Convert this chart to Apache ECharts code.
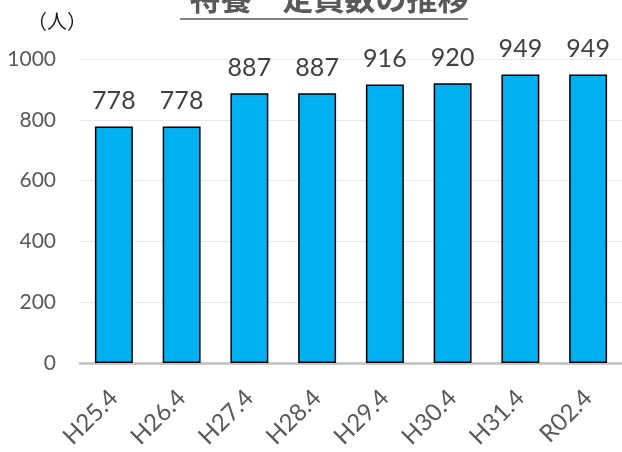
<!DOCTYPE html>
<html>
<head>
<meta charset="utf-8">
<script src="https://cdn.jsdelivr.net/npm/echarts@6/dist/echarts.min.js"></script>
<style>
  html, body { margin: 0; padding: 0; background: #fff; }
  #main { width: 622px; height: 452px; }
</style>
</head>
<body>
<div id="main"></div>
<script>
// 特養 定員数 (人)
const categories = ['H25.4', 'H26.4', 'H27.4', 'H28.4', 'H29.4', 'H30.4', 'H31.4', 'R02.4'];
const capacity = [778, 778, 887, 887, 916, 920, 949, 949];
const yTicks = [0, 200, 400, 600, 800, 1000];

const chart = echarts.init(document.getElementById('main'));

const option = {
    animation: false,
    backgroundColor: '#ffffff',
    title: {
        text: '特養　定員数の推移',
        left: 324,
        textAlign: 'center',
        top: -22,
        textStyle: {
            fontFamily: 'Noto Sans CJK JP',
            fontSize: 31,
            fontWeight: 'bold',
            color: '#595959'
        }
    },
    graphic: [
        {
            type: 'line',
            shape: { x1: 180, y1: 19, x2: 468, y2: 19 },
            style: { stroke: '#595959', lineWidth: 1.5 }
        },
        {
            type: 'text',
            left: 27,
            top: 11,
            style: {
                text: '（人）',
                font: '20px "Noto Sans CJK JP"',
                fill: '#1a1a1a'
            }
        }
    ],
    grid: {
        left: 80,
        right: -7,
        top: 59,
        bottom: 89,
        containLabel: false
    },
    xAxis: {
        type: 'category',
        data: categories,
        axisTick: { show: false },
        axisLine: { lineStyle: { color: '#bfbfbf', width: 2.5 } },
        axisLabel: {
            rotate: 45,
            margin: 31,
            fontFamily: 'Lato',
            fontSize: 24,
            color: '#595959'
        }
    },
    yAxis: {
        type: 'value',
        min: 0,
        max: 1000,
        interval: 200,
        axisLine: { show: false },
        axisTick: { show: false },
        splitLine: { lineStyle: { color: '#e8e8e8', width: 1 } },
        axisLabel: {
            margin: 24,
            fontFamily: 'Lato',
            fontSize: 21,
            color: '#595959',
            formatter: function (v) {
                return yTicks.indexOf(v) >= 0 ? String(v) : '';
            }
        }
    },
    series: [
        {
            type: 'bar',
            data: capacity,
            barWidth: '56%',
            itemStyle: {
                color: '#00b0f0',
                borderColor: '#000000',
                borderWidth: 1.5
            },
            label: {
                show: true,
                position: 'top',
                distance: 13,
                fontFamily: 'Lato',
                fontSize: 25,
                color: '#404040'
            }
        }
    ]
};

chart.setOption(option);
</script>
</body>
</html>
